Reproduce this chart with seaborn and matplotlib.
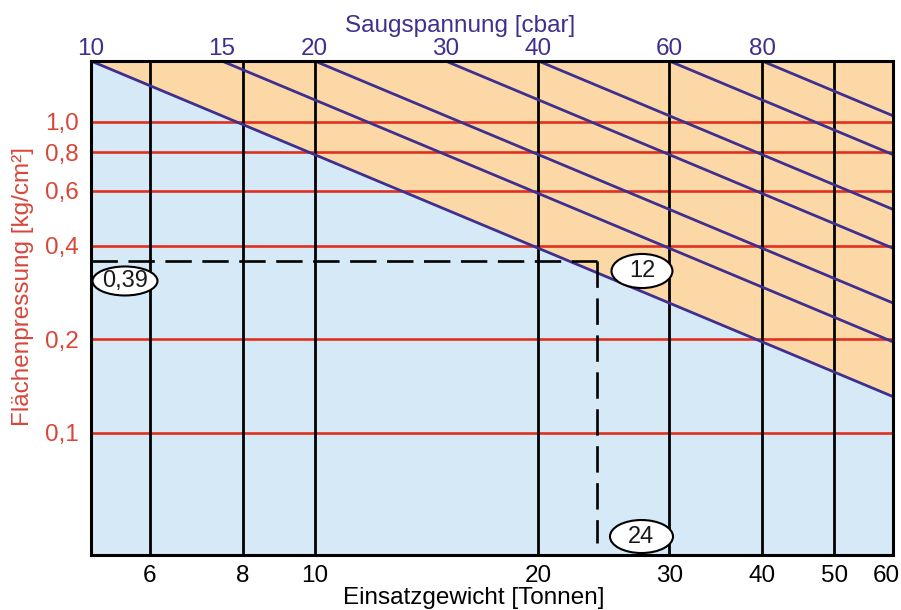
import numpy as np
import pandas as pd
import matplotlib
matplotlib.use("Agg")
import matplotlib.pyplot as plt
import matplotlib.transforms as mtransforms
import seaborn as sns
from matplotlib.patches import Ellipse
from matplotlib.ticker import NullLocator

# ---------------- data ----------------
weight_ticks = [6, 8, 10, 20, 30, 40, 50, 60]
weight_tick_labels = ["6", "8", "10", "20", "30", "40", "50", "60"]
weight_grid = [6, 8, 10, 20, 30, 40, 50]
pressure_ticks = [0.1, 0.2, 0.4, 0.6, 0.8, 1.0]
pressure_tick_labels = ["0,1", "0,2", "0,4", "0,6", "0,8", "1,0"]
suction_values = [10, 15, 20, 30, 40, 60, 80]
suction_tick_labels = ["10", "15", "20", "30", "40", "60", "80"]
weight_range = [5, 60]
pressure_range = [0.0405, 1.57]
pressure_factor = 0.785          # Flächenpressung = factor * Saugspannung / Gewicht
boundary_suction = 10
example_weight = 24
example_pressure = 0.357
example_dash_bottom = 0.0443
example_labels = ["0,39", "12", "24"]

# ---------------- style ----------------
sns.set_theme(style="white")
plt.rcParams["font.family"] = ["Liberation Sans", "DejaVu Sans"]

blue_fill = "#d6e9f7"
orange_fill = "#fdd8a7"
red = "#e2301f"
red_text = "#d8463a"
purple = "#3f2f8e"

fig = plt.figure(figsize=(9.01, 6.10), dpi=100)
ax = fig.add_axes([91 / 901, 1 - 555 / 610, 802 / 901, 494 / 610])
ax.set_xscale("log")
ax.set_yscale("log")
ax.set_xlim(*weight_range)
ax.set_ylim(*pressure_range)

# background regions split by the 10 cbar line
boundary = [pressure_factor * boundary_suction / w for w in weight_range]
ax.fill_between(weight_range, pressure_range[0], boundary, color=blue_fill, lw=0, zorder=0)
ax.fill_between(weight_range, boundary, pressure_range[1], color=orange_fill, lw=0, zorder=0)

# grid lines
for p in pressure_ticks:
    ax.axhline(p, color=red, lw=1.9, zorder=1)
for w in weight_grid:
    ax.axvline(w, color="black", lw=2.0, zorder=2)

# Saugspannung lines
df = pd.DataFrame(
    [{"S": s, "W": w, "p": pressure_factor * s / w} for s in suction_values for w in weight_range]
)
sns.lineplot(data=df, x="W", y="p", units="S", estimator=None, color=purple,
             lw=2.0, ax=ax, legend=False, sort=False, zorder=3)

# example dashed lines
ax.plot([weight_range[0], example_weight], [example_pressure, example_pressure],
        color="black", lw=1.9, dashes=(10, 4), zorder=4)
ax.plot([example_weight, example_weight], [example_pressure, example_dash_bottom],
        color="black", lw=1.9, dashes=(10, 4), zorder=4)

# ellipse labels
ellipses = [
    (0.0424, 0.5547, 0.081, 0.0587),
    (0.687, 0.5749, 0.076, 0.069),
    (0.6864, 0.0374, 0.0786, 0.0668),
]
for (cx, cy, ew, eh), txt in zip(ellipses, example_labels):
    ax.add_patch(Ellipse((cx, cy), ew, eh, transform=ax.transAxes, fc="white",
                         ec="black", lw=1.5, zorder=6))
    ax.text(cx, cy, txt, transform=ax.transAxes, ha="center", va="center",
            fontsize=17, color="#1a1a1a", zorder=7)

# axes ticks
ax.set_xticks(weight_ticks, labels=weight_tick_labels)
ax.set_yticks(pressure_ticks, labels=pressure_tick_labels)
ax.xaxis.set_minor_locator(NullLocator())
ax.yaxis.set_minor_locator(NullLocator())
ax.tick_params(axis="x", length=0, pad=7, labelsize=17.5, labelcolor="black")
ax.tick_params(axis="y", length=0, pad=9, labelsize=17.5, labelcolor=red_text)

# keep the last bottom label inside the figure
last = ax.get_xticklabels()[-1]
last.set_transform(last.get_transform() + mtransforms.ScaledTranslation(-7 / 100, 0, fig.dpi_scale_trans))

ax.set_xlabel("Einsatzgewicht [Tonnen]", fontsize=17.5, color="black")
ax.xaxis.set_label_coords(0.4776, -0.065)
ax.set_ylabel("Flächenpressung [kg/cm²]", fontsize=17.5, color=red_text)
ax.yaxis.set_label_coords(-0.071, 0.543)

for sp in ax.spines.values():
    sp.set_color("black")
    sp.set_linewidth(2.2)
    sp.set_zorder(8)

# top Saugspannung axis
ratio = pressure_range[1] / pressure_factor
sec = ax.secondary_xaxis("top", functions=(lambda w: w * ratio, lambda s: s / ratio))
sec.set_xticks(suction_values, labels=suction_tick_labels)
sec.xaxis.set_minor_locator(NullLocator())
sec.tick_params(axis="x", length=0, pad=1, labelsize=17.5, labelcolor=purple)
sec.spines["top"].set_visible(False)
sec.set_xlabel("Saugspannung [cbar]", fontsize=17.5, color=purple)
sec.xaxis.set_label_coords(0.46, 1.0486, transform=ax.transAxes)
sec.xaxis.label.set_va("bottom")

fig.savefig("out.png", dpi=100)
